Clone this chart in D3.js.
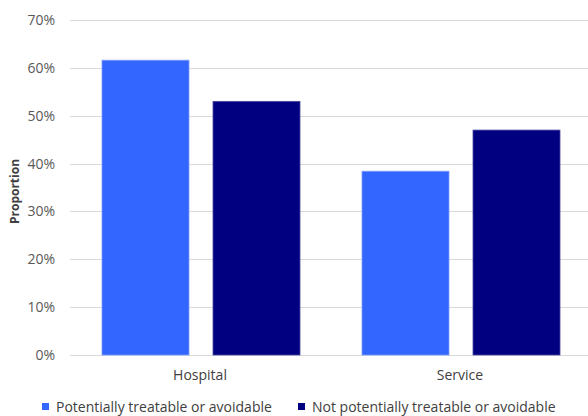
<!DOCTYPE html>
<html>
<head>
<meta charset="utf-8">
<script src="https://cdn.jsdelivr.net/npm/d3@7"></script>
<style>
  html, body { margin: 0; padding: 0; background: #fff; }
  svg { display: block; font-family: "Open Sans", "Noto Sans", sans-serif; }
</style>
</head>
<body>
<svg id="chart" width="588" height="416"></svg>
<script>
// Chart data
const categories = ["Hospital", "Service"];
const seriesNames = ["Potentially treatable or avoidable", "Not potentially treatable or avoidable"];
const treatableValues = [0.616, 0.384];
const notTreatableValues = [0.530, 0.470];
const yTicks = [0, 0.1, 0.2, 0.3, 0.4, 0.5, 0.6, 0.7];

const colors = ["#3366ff", "#000080"];
const strokes = ["#7f9cff", "#4a4aa0"];

const svg = d3.select("#chart");
const W = 588, H = 416;
const margin = { left: 70, right: -2, top: 20, bottom: 61 };

const x0 = d3.scaleBand().domain(categories).range([margin.left, W - margin.right]);
const x1 = d3.scaleBand().domain(seriesNames)
  .range([32, 230]).paddingInner(24 / 111);
const y = d3.scaleLinear().domain([0, 0.7]).range([H - margin.bottom, margin.top]);

// Gridlines
svg.append("g")
  .selectAll("line")
  .data(yTicks)
  .join("line")
  .attr("x1", margin.left)
  .attr("x2", W)
  .attr("y1", d => Math.round(y(d)) + 0.5)
  .attr("y2", d => Math.round(y(d)) + 0.5)
  .attr("stroke", "#d9d9d9")
  .attr("stroke-width", 1);

// Y axis labels
const yAxis = d3.axisLeft(y).tickValues(yTicks).tickFormat(d3.format(".0%")).tickSize(0).tickPadding(15);
const gy = svg.append("g").attr("transform", `translate(${margin.left},0)`).call(yAxis);
gy.select(".domain").remove();
gy.selectAll("text")
  .attr("fill", "#595959")
  .style("font-size", "14px")
  .style("font-family", "'Open Sans', sans-serif");

// X axis labels
const xAxis = d3.axisBottom(x0).tickSize(0).tickPadding(15);
const gx = svg.append("g").attr("transform", `translate(0,${H - margin.bottom})`).call(xAxis);
gx.select(".domain").remove();
gx.selectAll("text")
  .attr("fill", "#404040")
  .style("font-size", "14px")
  .style("font-family", "'Open Sans', sans-serif");

// Bars
const rows = categories.map((c, i) => ({
  category: c,
  values: [
    { series: seriesNames[0], value: treatableValues[i], k: 0 },
    { series: seriesNames[1], value: notTreatableValues[i], k: 1 }
  ]
}));

svg.append("g")
  .selectAll("g")
  .data(rows)
  .join("g")
  .attr("transform", d => `translate(${x0(d.category)},0)`)
  .selectAll("rect")
  .data(d => d.values)
  .join("rect")
  .attr("x", d => x1(d.series))
  .attr("width", x1.bandwidth())
  .attr("y", d => y(d.value))
  .attr("height", d => y(0) - y(d.value))
  .attr("fill", d => colors[d.k])
  .attr("stroke", d => strokes[d.k])
  .attr("stroke-width", 0.8);

// Y axis title
svg.append("text")
  .attr("transform", `translate(19,${(y(0) + y(0.7)) / 2 + 4}) rotate(-90)`)
  .attr("text-anchor", "middle")
  .attr("fill", "#404040")
  .style("font-size", "12px")
  .style("font-weight", "bold")
  .text("Proportion");

// Legend
const legendX = [42, 298];
const legend = svg.append("g");
seriesNames.forEach((name, i) => {
  legend.append("rect")
    .attr("x", legendX[i])
    .attr("y", 403)
    .attr("width", 7)
    .attr("height", 7)
    .attr("fill", colors[i]);
  legend.append("text")
    .attr("x", legendX[i] + 14)
    .attr("y", 412)
    .attr("fill", "#404040")
    .style("font-size", "14px")
    .text(name);
});
</script>
</body>
</html>
